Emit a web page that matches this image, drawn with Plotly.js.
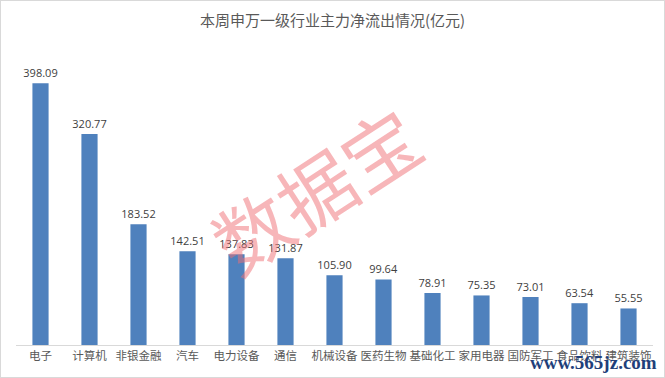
<!DOCTYPE html>
<html>
<head>
<meta charset="utf-8">
<script src="https://cdn.plot.ly/plotly-3.0.1.min.js"></script>
<style>
html,body{margin:0;padding:0;background:#fff;}
#wrap{position:relative;width:665px;height:378px;}
#chart{width:665px;height:378px;}
#border{position:absolute;left:0;top:0;width:663px;height:376px;border:1px solid #d9d9d9;pointer-events:none;}
</style>
</head>
<body>
<div id="wrap"><div id="chart"></div><div id="border"></div></div>
<script>
const categories = ["电子","计算机","非银金融","汽车","电力设备","通信","机械设备","医药生物","基础化工","家用电器","国防军工","食品饮料","建筑装饰"];
const netOutflow = [398.09,320.77,183.52,142.51,137.83,131.87,105.90,99.64,78.91,75.35,73.01,63.54,55.55];
const chartTitle = "本周申万一级行业主力净流出情况(亿元)";

const trace = {
  type: "bar",
  x: categories,
  y: netOutflow,
  marker: {color: "#4f81bd"},
  texttemplate: "%{y:.2f}",
  textposition: "outside",
  constraintext: "none",
  cliponaxis: false,
  textfont: {family: "Open Sans, DejaVu Sans, sans-serif", size: 11, color: "#404040"},
  hoverinfo: "none"
};

const layout = {
  width: 665, height: 378,
  margin: {l: 16, r: 12, t: 49, b: 33},
  paper_bgcolor: "#ffffff", plot_bgcolor: "#ffffff",
  bargap: 0.67,
  showlegend: false,
  title: {text: chartTitle, x: 0.5, xanchor: "center", y: 0.945, yanchor: "middle",
          font: {family: "Noto Sans CJK SC, sans-serif", size: 15, color: "#595959"}},
  xaxis: {
    type: "category",
    showline: true, linecolor: "#d9d9d9", linewidth: 1,
    ticks: "", showgrid: false, zeroline: false,
    tickfont: {family: "Noto Sans CJK SC, sans-serif", size: 11.5, color: "#595959"},
    tickangle: 0
  },
  yaxis: {range: [0, 450], visible: false, showgrid: false, zeroline: false},
  annotations: [
    {text: "数据宝", xref: "paper", yref: "paper", x: 0.47, y: 0.53, showarrow: false,
     textangle: -33, font: {family: "Noto Sans CJK SC, sans-serif", size: 76, color: "rgba(240,110,115,0.5)"}},
    {text: "<b>www.565jz.com</b>", xref: "paper", yref: "paper", x: 1.01, y: -0.06,
     xanchor: "right", yanchor: "middle", showarrow: false,
     font: {family: "Liberation Serif, DejaVu Serif, serif", size: 19, color: "#1f3f7a"}}
  ]
};

Plotly.newPlot("chart", [trace], layout, {displayModeBar: false, staticPlot: true});
</script>
</body>
</html>
